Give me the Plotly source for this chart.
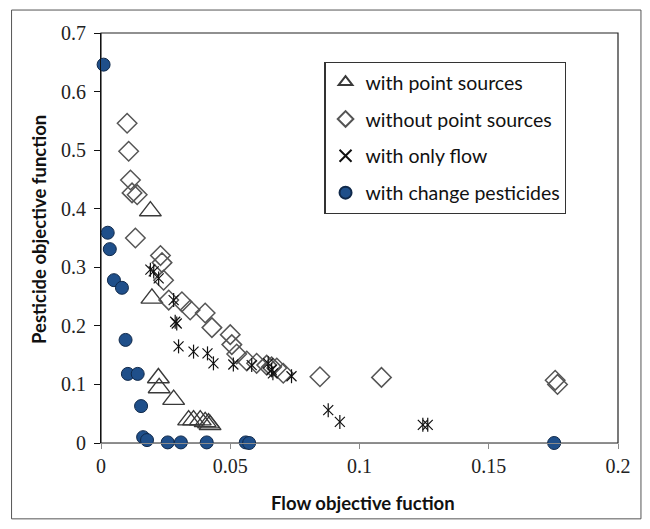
import plotly.graph_objects as go

# Flow (x) and pesticide (y) objective values for each optimisation scenario
pt_src_x = [0.0191, 0.0197, 0.0222, 0.0225, 0.0281, 0.0339, 0.0358, 0.0384, 0.0403, 0.0416, 0.0422]
pt_src_y = [0.396, 0.247, 0.111, 0.094, 0.074, 0.039, 0.039, 0.039, 0.036, 0.034, 0.031]

no_pt_x = [0.0101, 0.0107, 0.0114, 0.0120, 0.0140, 0.0133, 0.0230, 0.0236, 0.0242, 0.0262,
           0.0313, 0.0345, 0.0403, 0.0429, 0.0500, 0.0506, 0.0525, 0.0564, 0.0602, 0.0641,
           0.0660, 0.0680, 0.0705, 0.0847, 0.1085, 0.1757, 0.1766]
no_pt_y = [0.546, 0.498, 0.449, 0.427, 0.424, 0.350, 0.320, 0.308, 0.278, 0.244,
           0.241, 0.227, 0.222, 0.197, 0.185, 0.168, 0.152, 0.140, 0.136, 0.133,
           0.130, 0.128, 0.119, 0.113, 0.112, 0.107, 0.100]

flow_x = [0.0191, 0.0204, 0.0223, 0.0281, 0.0287, 0.0293, 0.0300, 0.0358, 0.0412, 0.0435,
          0.0512, 0.0583, 0.0647, 0.0660, 0.0665, 0.0737, 0.0879, 0.0924, 0.1245, 0.1264]
flow_y = [0.296, 0.293, 0.281, 0.244, 0.207, 0.204, 0.165, 0.156, 0.153, 0.136,
          0.134, 0.133, 0.136, 0.125, 0.119, 0.114, 0.056, 0.036, 0.031, 0.031]

chg_x = [0.0010, 0.0026, 0.0034, 0.0050, 0.0081, 0.0095, 0.0104, 0.0142, 0.0155, 0.0163,
         0.0178, 0.0258, 0.0309, 0.0409, 0.0560, 0.0573, 0.1753]
chg_y = [0.646, 0.359, 0.331, 0.278, 0.265, 0.176, 0.118, 0.118, 0.063, 0.010,
         0.005, 0.001, 0.001, 0.001, 0.001, 0.000, 0.000]

x_ticks = [0, 0.05, 0.1, 0.15, 0.2]
x_tick_text = ["0", "0.05", "0.1", "0.15", "0.2"]
y_ticks = [0, 0.1, 0.2, 0.3, 0.4, 0.5, 0.6, 0.7]
y_tick_text = ["0", "0.1", "0.2", "0.3", "0.4", "0.5", "0.6", "0.7"]

fig = go.Figure()

fig.add_trace(go.Scatter(
    x=pt_src_x, y=pt_src_y, mode="markers", name="with point sources",
    legendgroup="a", cliponaxis=False,
    marker=dict(symbol="triangle-up-open", size=19, color="#3a3a3a", line=dict(width=1.4)),
))
fig.add_trace(go.Scatter(
    x=no_pt_x, y=no_pt_y, mode="markers", name="without point sources",
    legendgroup="b", cliponaxis=False,
    marker=dict(symbol="diamond-open", size=15, color="#555555", line=dict(width=1.5)),
))
# Six-armed star: vertical stroke plus a diagonal cross
fig.add_trace(go.Scatter(
    x=flow_x, y=flow_y, mode="markers", name="with only flow",
    legendgroup="c", cliponaxis=False,
    marker=dict(symbol="x-thin-open", size=10, color="#111111", line=dict(width=1.2, color="#111111")),
))
fig.add_trace(go.Scatter(
    x=flow_x, y=flow_y, mode="markers", name="with only flow",
    legendgroup="c", showlegend=False, cliponaxis=False,
    marker=dict(symbol="line-ns-open", size=10, color="#111111", line=dict(width=1.2, color="#111111")),
))
fig.add_trace(go.Scatter(
    x=chg_x, y=chg_y, mode="markers", name="with change pesticides",
    legendgroup="d", cliponaxis=False,
    marker=dict(symbol="circle", size=13, color="#1f4f8a", line=dict(width=1, color="#10294a")),
))

tick_font = dict(family="Liberation Serif, Times New Roman, serif", size=20, color="#222222")
title_font = dict(family="Lato, Open Sans, sans-serif", size=18.5, color="#111111")

fig.update_layout(
    width=650, height=529,
    margin=dict(l=100.5, r=32, t=33, b=86),
    paper_bgcolor="white", plot_bgcolor="white",
    showlegend=True,
    legend=dict(
        x=0.432, y=0.93, xanchor="left", yanchor="top",
        bordercolor="#333333", borderwidth=1.2, bgcolor="white",
        font=dict(family="Lato, Open Sans, sans-serif", size=19.5, color="#111111"),
        itemsizing="constant", traceorder="grouped", tracegroupgap=8.5,
    ),
    xaxis=dict(
        range=[0, 0.2], tickvals=x_ticks, ticktext=x_tick_text,
        showgrid=False, zeroline=False, showline=True, linecolor="#8a8a8a", linewidth=1,
        ticks="outside", ticklen=5, tickcolor="#8a8a8a", tickfont=tick_font,
    ),
    yaxis=dict(
        range=[0, 0.7], tickvals=y_ticks, ticktext=y_tick_text,
        showgrid=False, zeroline=False, showline=True, linecolor="#111111", linewidth=1.2,
        ticks="outside", ticklen=6, tickcolor="#111111", tickfont=tick_font, ticklabelstandoff=4,
    ),
    shapes=[
        # plot-area frame
        dict(type="rect", xref="paper", yref="paper", x0=0, x1=1, y0=0, y1=1,
             line=dict(color="#222222", width=1.2), layer="below"),
        # outer chart border
        dict(type="rect", xref="paper", yref="paper", x0=-0.173, x1=1.0444, y0=-0.185, y1=1.056,
             line=dict(color="#555555", width=1), layer="below"),
    ],
    annotations=[
        dict(text="<b>Flow objective fuction</b>", xref="paper", yref="paper",
             x=0.506, y=-0.146, showarrow=False, font=title_font,
             xanchor="center", yanchor="middle"),
        dict(text="<b>Pesticide objective function</b>", xref="paper", yref="paper",
             x=-0.12, y=0.522, showarrow=False, font=title_font, textangle=-90,
             xanchor="center", yanchor="middle"),
    ],
)

fig.write_html("out.html")
